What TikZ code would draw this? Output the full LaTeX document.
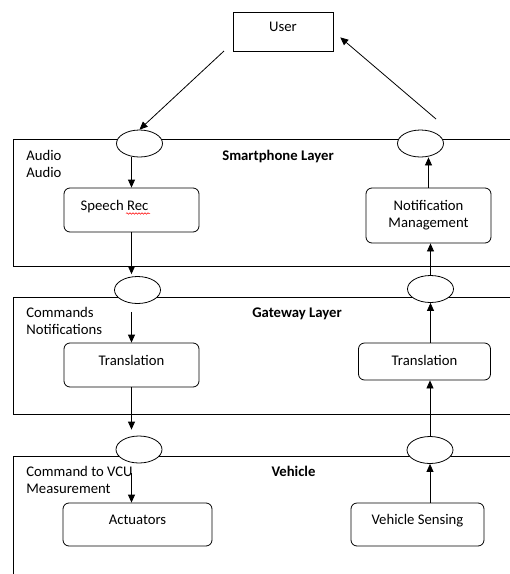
\documentclass[tikz,border=0pt]{standalone}
\usepackage{fontspec}
\setmainfont{Carlito}
\usetikzlibrary{arrows.meta, positioning, shapes.geometric, decorations.pathmorphing}

\begin{document}
\begin{tikzpicture} [x=1pt, y=-1pt, line width=0.8pt, >={Triangle[length=8pt,width=7pt]},
  font=\fontsize{14.7}{17}\selectfont,
  box/.style ={draw, rounded corners=6pt, inner sep=0pt, text height=7pt, text depth=7pt},
  port/.style ={draw, ellipse, fill=white, minimum width=46pt, minimum height=27pt, inner sep=0pt},
  layer/.style ={font=\fontsize{14.7}{17}\selectfont\bfseries, anchor=base, inner sep=0pt},
  tag/.style ={align=left, anchor=north west, inner sep=0pt}]
\useasboundingbox (0,0) rectangle (510,574);

% layers
\draw (510,139) -- (13,139) -- (13,266) -- (510,266);
\draw (510,297) -- (13,297) -- (13,414) -- (510,414);
\draw (510,456) -- (13,456) -- (13,574);

\node[layer] (L1) at (278,160) {Smartphone Layer};
\node[layer] (L2) at (297,317) {Gateway Layer};
\node[layer] (L3) at (293.5,476) {Vehicle};
\node[tag] (T1) at (26,149.7) {Audio\\Audio};
\node[tag] (T2) at (26,306.7) {Commands\\Notifications};
\node[tag] (T3) at (26,465.7) {Command to VCU\\Measurement};

% user
\node[draw, inner sep=0pt, text height=7pt, text depth=7pt, minimum width=100pt, minimum height=39pt] (U) at (283,31.5) {User};
\coordinate (u1) at (224,51);
\coordinate (u2) at (436,119);

% ports
\node[port] (P1) at (139.5,143.5) {};
\node[port] (P2) at (420.5,143.5) {};
\node[port] (P3) at (137.5,290) {};
\node[port] (P4) at (430.5,289) {};
\node[port] (P5) at (139,449.5) {};
\node[port] (P6) at (430,450) {};

% blocks
\node[box, minimum width=135pt, minimum height=44pt] (SR) at (131.5,210) {};
\node[anchor=base, inner sep=0pt] (SRt) at (114.5,210) {Speech Rec};
\draw[red, line width=0.5pt, decorate, decoration={snake, amplitude=0.8pt, segment length=3pt}] (126,213.5) -- (150,213.5);
\node[box, minimum width=125pt, minimum height=55pt, align=center, text height=, text depth=] (NM) at (428.5,215.5) {Notification\\Management};
\node[box, minimum width=135pt, minimum height=44pt] (LT) at (131.5,365) {Translation};
\node[box, minimum width=132pt, minimum height=37pt, text height=10pt, text depth=3pt] (RT) at (424.5,361.5) {Translation};
\node[box, minimum width=149pt, minimum height=43pt] (A) at (137.5,524.5) {Actuators};
\node[box, minimum width=133pt, minimum height=43pt] (VS) at (417.5,524.5) {Vehicle Sensing};

% down the left
\draw[->] (u1) -- (P1.north);
\draw[->] (P1.south -| SR.north) -- (SR.north);
\draw[->, shorten >=2pt] (SR.south) -- (SR.south |- P3.north);
\draw[->, shorten <=8pt] (P3.south -| LT.north) -- (LT.north);
\draw[->, shorten >=6pt] (LT.south) -- (LT.south |- P5.north);
\draw[->, shorten <=10pt] (P5.south -| LT.north) -- (LT.south |- A.north);

% up the right
\draw[->] (P6.south |- VS.north) -- (P6.south);
\draw[->] (P6.north) -- (P6.north |- RT.south);
\draw[->] (P4.south |- RT.north) -- (P4.south);
\draw[->] (P4.north) -- (P4.north |- NM.south);
\draw[->] (NM.north) -- (NM.north |- P2.south);
\draw[->, shorten >=9pt] (u2) -- (U.east);
\end{tikzpicture}
\end{document}
